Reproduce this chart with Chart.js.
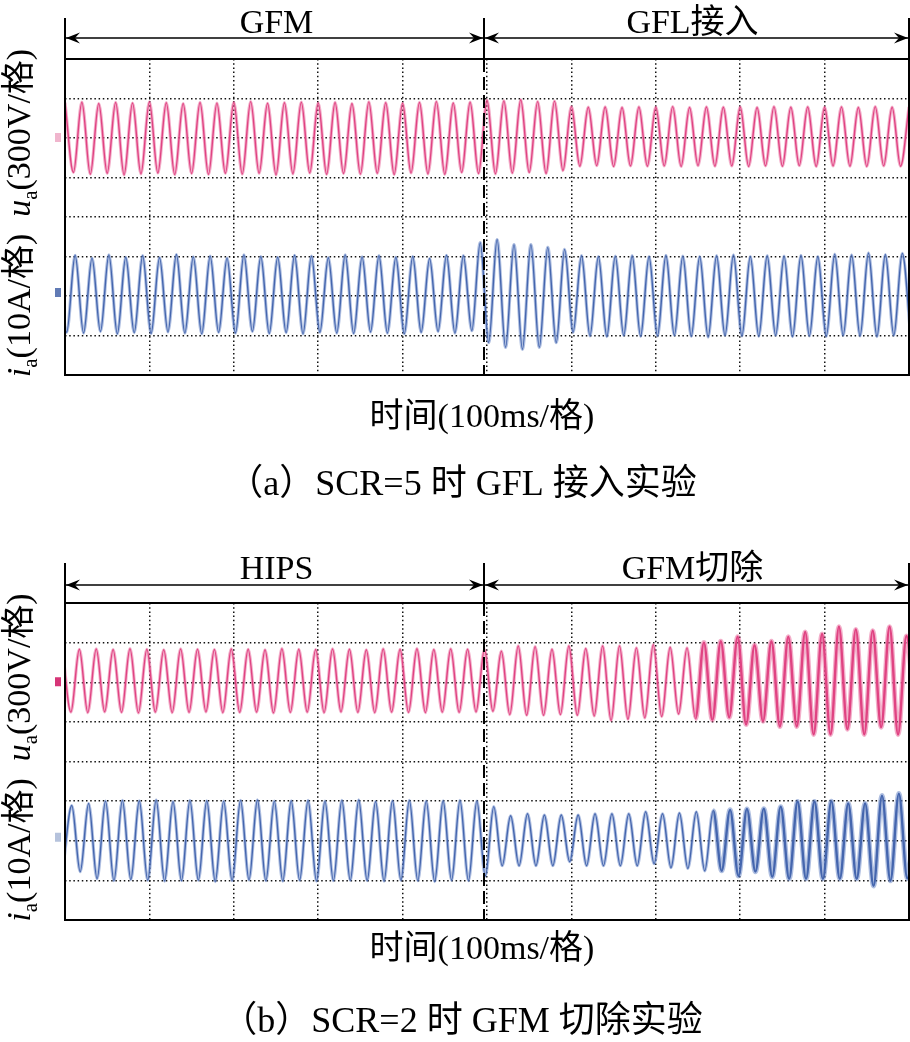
<!DOCTYPE html>
<html>
<head>
<meta charset="utf-8">
<script src="https://cdn.jsdelivr.net/npm/chart.js@4.4.1/dist/chart.umd.min.js"></script>
<style>
  html, body { margin: 0; padding: 0; background: #fff; }
  #wrap { position: relative; width: 910px; height: 1042px; overflow: hidden; }
  canvas { position: absolute; left: 0; }
  #scopeA { top: 0; }
  #scopeB { top: 528px; }
</style>
</head>
<body>
<div id="wrap">
  <canvas id="scopeA" width="910" height="528"></canvas>
  <canvas id="scopeB" width="910" height="514"></canvas>
</div>
<script>
// DATA - one extreme (peak / trough) of each trace every 10 ms, i.e. every half cycle at 50 Hz
const STEP_MS = 10;

// (a) SCR=5, GFL connected at ~497 ms
const ua1Start = 0;          // ms of first value (peak)
const ua1 = [
  268,-262, 272,-275, 262,-268, 270,-280, 266,-272,
  274,-266, 268,-278, 262,-270, 270,-276, 265,-268,
  270,-274, 276,-268, 264,-280, 268,-272, 272,-266,
  266,-276, 270,-270, 262,-274, 274,-268, 268,-278,
  264,-266, 270,-272, 276,-276, 266,-262, 272,-270,
  288,-272, 282,-266, 290,-262, 276,-270, 280,-248,
  238,-214, 234,-210, 236,-216, 232,-212, 236,-214,
  234,-212, 238,-216, 232,-210, 236,-214, 234,-212,
  236,-216, 232,-212, 238,-214, 234,-210, 236,-216,
  234,-212, 236,-214, 232,-216, 238,-212, 234,-214,
  236
];
const ia1Start = -8;         // first value is a peak
const ia1 = [
  10.0,-9.2, 10.3,-9.4, 9.6,-9.0, 10.4,-9.6, 9.8,-9.3,
  10.2,-9.5, 9.7,-9.1, 10.5,-9.4, 9.9,-9.6, 10.1,-9.2,
  9.6,-9.4, 10.4,-9.0, 10.0,-9.5, 9.8,-9.3, 10.3,-9.6,
  10.1,-9.2, 9.7,-9.4, 10.4,-9.5, 9.9,-9.1, 10.2,-9.4,
  9.8,-9.6, 10.0,-9.2, 9.5,-9.0, 10.3,-9.4, 10.2,-8.8,
  13.5,-11.8, 14.3,-13.0, 13.0,-13.5, 13.0,-13.0, 12.3,-11.8,
  11.8,-9.2, 10.2,-10.1, 10.0,-10.3, 10.1,-10.0, 10.2,-10.2,
  10.0,-10.1, 10.3,-10.0, 10.1,-10.2, 10.0,-10.4, 10.2,-10.0,
  10.4,-10.1, 10.0,-10.2, 10.2,-10.0, 10.1,-10.3, 10.3,-10.1,
  10.0,-10.2, 10.6,-10.0, 10.4,-10.1, 10.9,-10.3, 10.5,-10.0,
  10.8,-10.1
];

// (b) SCR=2, GFM removed at ~497 ms
const ua2Start = -3;         // first value is a peak
const ua2 = [
  245,-226, 250,-230, 252,-224, 248,-228, 254,-232,
  250,-226, 246,-230, 252,-228, 250,-224, 248,-230,
  252,-228, 250,-226, 246,-232, 254,-228, 250,-226,
  248,-230, 252,-224, 250,-228, 246,-230, 252,-226,
  250,-228, 254,-230, 248,-226, 252,-228, 250,-224,
  248,-220, 235,-245, 275,-250, 270,-250, 250,-245,
  275,-250, 255,-255, 275,-290, 275,-280, 260,-270,
  285,-260, 265,-240, 260,-275, 300,-285, 310,-265,
  345,-320, 280,-295, 310,-335, 345,-335, 380,-395,
  365,-395, 420,-355, 400,-395, 390,-340, 420,-395,
  350,-300
];
const ia2Start = -2;         // first value is a trough
const ia2 = [
  -6.0, 8.9, -7.8, 9.4, -9.6, 10.0, -10.1, 10.2, -9.8, 10.1,
  -10.0, 10.3, -10.2, 9.9, -10.1, 10.2, -10.0, 10.1, -10.3, 10.0,
  -10.1, 10.2, -9.9, 10.3, -10.1, 10.0, -10.2, 10.1, -10.0, 10.2,
  -10.2, 10.0, -10.1, 10.2, -10.0, 10.3, -10.1, 9.9, -10.2, 10.1,
  -10.0, 10.2, -10.1, 10.0, -10.3, 10.1, -10.0, 10.2, -10.1, 10.0,
  -8.9, 8.6, -6.3, 6.3, -6.3, 6.8, -6.3, 6.5, -6.3, 6.5,
  -5.3, 6.5, -6.3, 6.8, -6.3, 6.8, -6.3, 6.8, -6.3, 7.3,
  -5.8, 6.8, -6.8, 7.0, -7.0, 7.3, -7.6, 7.6, -7.6, 7.8,
  -8.9, 8.0, -7.8, 8.1, -9.1, 8.6, -9.6, 9.9, -9.6, 9.9,
  -9.6, 10.0, -9.6, 9.4, -9.6, 9.4, -11.4, 11.4, -10.1, 11.9,
  -9.5, 10.5
];

// TEXTS
const headersA = ["GFM", "GFL接入"];
const headersB = ["HIPS", "GFM切除"];
const captionA = "（a）SCR=5 时 GFL 接入实验";
const captionB = "（b）SCR=2 时 GFM 切除实验";
const xTitle = "时间(100ms/格)";

// SCOPE SETTINGS: 10 x 8 divisions, 100 ms/div, 300 V/div, 10 A/div
const TIME_MAX = 1000, MS_PER_DIV = 100;
const V_PER_DIV = 300, A_PER_DIV = 10;

const SERIF = '"Liberation Serif", "Noto Sans CJK SC", serif';
const PINK = "#d8266f", PINK_HALO = "rgba(232,96,150,0.5)";
const BLUE = "#2a4c98", BLUE_HALO = "rgba(96,128,196,0.5)";

function toPoints(start, values) {
  return values.map((v, i) => ({ x: start + STEP_MS * i, y: v }));
}

function arrowHead(ctx, x, y, dir) {
  ctx.beginPath();
  ctx.moveTo(x, y);
  ctx.lineTo(x - dir * 14, y - 5.5);
  ctx.lineTo(x - dir * 9, y);
  ctx.lineTo(x - dir * 14, y + 5.5);
  ctx.closePath();
  ctx.fill();
}

// draws [text, style] parts, style '' | 'i' (italic) | 's' (subscript)
function drawRich(ctx, parts, x, y, size) {
  const fontOf = p => (p[1] === "i" ? "italic " : "") + (p[1] === "s" ? Math.round(size * 0.62) : size) + "px " + SERIF;
  let w = 0;
  parts.forEach(p => { ctx.font = fontOf(p); w += ctx.measureText(p[0]).width; });
  let cx = x - w / 2;
  ctx.textAlign = "left";
  parts.forEach(p => {
    ctx.font = fontOf(p);
    ctx.fillText(p[0], cx, y + (p[1] === "s" ? size * 0.22 : 0));
    cx += ctx.measureText(p[0]).width;
  });
}

const scopeDecor = {
  id: "scopeDecor",
  afterDraw(chart, args, o) {
    const { ctx, chartArea: a, scales } = chart;
    const sx = Math.round(scales.x.getPixelForValue(o.switchAt));
    const yTop = a.top - o.headH, yArrow = a.top - o.arrowGap;
    ctx.save();
    ctx.strokeStyle = "#000";
    ctx.fillStyle = "#000";

    // frame
    ctx.lineWidth = 2;
    ctx.strokeRect(a.left, a.top, a.right - a.left, a.bottom - a.top);
    ctx.beginPath();
    ctx.moveTo(a.left, yTop); ctx.lineTo(a.left, a.top);
    ctx.moveTo(a.right, yTop); ctx.lineTo(a.right, a.top);
    ctx.moveTo(sx, yTop); ctx.lineTo(sx, a.top);
    ctx.stroke();

    // switching instant
    ctx.setLineDash([13, 5]);
    ctx.beginPath();
    ctx.moveTo(sx, a.top); ctx.lineTo(sx, a.bottom);
    ctx.stroke();
    ctx.setLineDash([]);

    // double arrows
    ctx.lineWidth = 1.6;
    ctx.beginPath();
    ctx.moveTo(a.left, yArrow); ctx.lineTo(a.right, yArrow);
    ctx.stroke();
    arrowHead(ctx, a.left + 1, yArrow, -1);
    arrowHead(ctx, sx - 1, yArrow, 1);
    arrowHead(ctx, sx + 1, yArrow, -1);
    arrowHead(ctx, a.right - 1, yArrow, 1);

    // header texts
    ctx.textAlign = "center";
    ctx.textBaseline = "alphabetic";
    ctx.font = "34px " + SERIF;
    ctx.fillText(o.headers[0], (a.left + sx) / 2 + 2, a.top - o.headBase);
    ctx.fillText(o.headers[1], (sx + a.right) / 2 - 4, a.top - o.headBase);

    // x title and caption
    ctx.font = "34px " + SERIF;
    ctx.fillText(xTitle, (a.left + a.right) / 2 - 5, a.bottom + o.xTitleGap);
    ctx.font = "36px " + SERIF;
    ctx.fillText(o.caption, (a.left + a.right) / 2 - 25, a.bottom + o.captionGap);

    // y title, rotated
    ctx.save();
    ctx.translate(19, (a.top + a.bottom) / 2 - 4);
    ctx.rotate(-Math.PI / 2);
    drawRich(ctx, [["i", "i"], ["a", "s"], ["(10A/格)", ""], ["  ", ""], ["u", "i"], ["a", "s"], ["(300V/格)", ""]], 0, 11, 34);
    ctx.restore();

    // channel zero markers
    const yu = scales.yU.getPixelForValue(0), yi = scales.yI.getPixelForValue(0);
    ctx.fillStyle = o.markU;
    ctx.fillRect(a.left - 10, yu - 5, 6, 9);
    ctx.fillStyle = o.markI;
    ctx.fillRect(a.left - 10, yi - 8, 6, 9);
    ctx.restore();
  }
};

function makeScope(canvasId, cfg) {
  const gridStyle = { color: "#111", lineWidth: 1.5, drawTicks: false, borderDash: [1.5, 2.7] };
  const borderStyle = { display: false, dash: [1.5, 2.7] };
  const trace = (label, start, values, axis, color, halo, thickFrom) => [
    {
      label: label + " halo", data: toPoints(start, values), yAxisID: axis,
      borderColor: halo, borderWidth: 3.2, pointRadius: 0, cubicInterpolationMode: "monotone",
      segment: { borderWidth: c => (c.p0.parsed.x > thickFrom ? 5 : 3.2) }
    },
    {
      label: label, data: toPoints(start, values), yAxisID: axis,
      borderColor: color, borderWidth: 1.4, pointRadius: 0, cubicInterpolationMode: "monotone",
      segment: { borderWidth: c => (c.p0.parsed.x > thickFrom ? 2.4 : 1.4) }
    }
  ];
  return new Chart(document.getElementById(canvasId), {
    type: "line",
    data: {
      datasets: [
        ...trace("u_a", cfg.uStart, cfg.u, "yU", PINK, PINK_HALO, cfg.uThick),
        ...trace("i_a", cfg.iStart, cfg.i, "yI", BLUE, BLUE_HALO, cfg.iThick)
      ]
    },
    options: {
      responsive: false,
      animation: false,
      events: [],
      layout: { padding: cfg.padding },
      plugins: {
        legend: { display: false },
        tooltip: { enabled: false },
        scopeDecor: cfg.decor
      },
      scales: {
        x: {
          type: "linear", min: 0, max: TIME_MAX,
          ticks: { display: false, stepSize: MS_PER_DIV },
          grid: gridStyle, border: borderStyle
        },
        yU: {
          type: "linear", position: "left", min: -6 * V_PER_DIV, max: 2 * V_PER_DIV,
          ticks: { display: false, stepSize: V_PER_DIV },
          grid: gridStyle, border: borderStyle
        },
        yI: {
          type: "linear", position: "right", display: false,
          min: -2 * A_PER_DIV, max: 6 * A_PER_DIV
        }
      }
    },
    plugins: [scopeDecor]
  });
}

makeScope("scopeA", {
  uStart: ua1Start, u: ua1, iStart: ia1Start, i: ia1,
  uThick: 2000, iThick: 2000,
  padding: { left: 65, top: 59, right: 1, bottom: 153 },
  decor: {
    switchAt: 497, headers: headersA, caption: captionA,
    headH: 41, arrowGap: 21, headBase: 26, xTitleGap: 52, captionGap: 120,
    markU: "rgba(212,42,112,0.35)", markI: "rgba(44,79,156,0.75)"
  }
});

makeScope("scopeB", {
  uStart: ua2Start, u: ua2, iStart: ia2Start, i: ia2,
  uThick: 740, iThick: 760,
  padding: { left: 65, top: 75, right: 1, bottom: 122 },
  decor: {
    switchAt: 497, headers: headersB, caption: captionB,
    headH: 40, arrowGap: 18, headBase: 24, xTitleGap: 39, captionGap: 112,
    markU: "rgba(212,42,112,0.95)", markI: "rgba(44,79,156,0.35)"
  }
});
</script>
</body>
</html>
